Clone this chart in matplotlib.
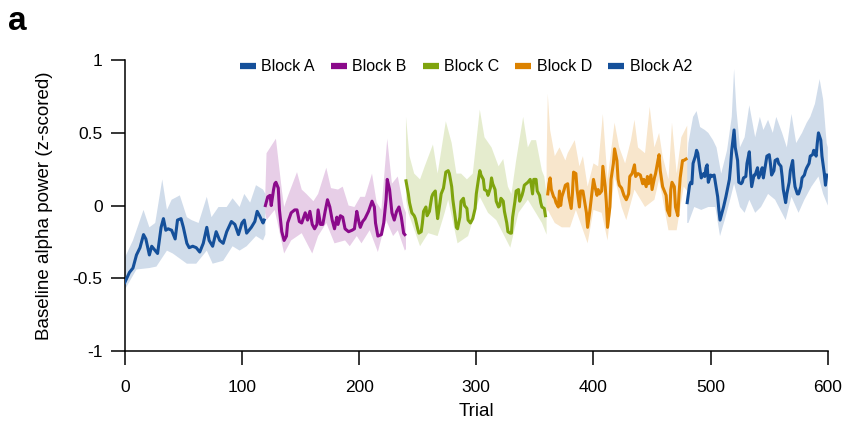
import matplotlib
matplotlib.use("Agg")
import matplotlib.pyplot as plt
from matplotlib.lines import Line2D

plt.rcParams['font.family'] = ['Liberation Sans', 'DejaVu Sans']

# ---------------- data ----------------
blocks = ["Block A", "Block B", "Block C", "Block D", "Block A2"]
colors = ["#15509a", "#8b0a8b", "#7fa40e", "#dc8200", "#15509a"]

A_t = [0,4,7,10,13,16,18,21,23,26,28,31,33,35,37,40,43,45,48,50,53,55,58,61,64,67,70,72,75,78,81,84,87,91,94,97,100,102,104,108,111,113,115,118,119]
A_v = [-0.53,-0.46,-0.43,-0.34,-0.29,-0.20,-0.23,-0.34,-0.28,-0.31,-0.33,-0.15,-0.09,-0.17,-0.16,-0.17,-0.23,-0.10,-0.09,-0.15,-0.26,-0.29,-0.28,-0.29,-0.32,-0.26,-0.15,-0.24,-0.28,-0.18,-0.24,-0.26,-0.18,-0.11,-0.13,-0.20,-0.12,-0.10,-0.19,-0.15,-0.11,-0.04,-0.07,-0.12,-0.10]
A_hi_t = [0,7,16,21,26,32,36,40,47,53,57,63,70,74,80,87,92,98,102,107,112,118,120]
A_hi_v = [-0.36,-0.24,-0.03,-0.15,-0.12,0.18,-0.03,0.04,0.07,-0.08,-0.10,-0.12,0.06,-0.08,-0.01,-0.01,0.05,-0.01,0.08,0.02,0.14,0.11,0.08]
A_lo_t = [0,10,21,27,36,41,53,61,70,75,84,92,98,104,112,118,120]
A_lo_v = [-0.58,-0.44,-0.43,-0.42,-0.31,-0.33,-0.40,-0.40,-0.31,-0.40,-0.38,-0.28,-0.31,-0.28,-0.21,-0.24,-0.20]

B_t = [120,122,124,125,127,128,129,131,132,134,136,138,139,142,145,147,149,151,154,156,158,160,162,164,165,167,169,171,173,175,177,179,181,182,184,186,188,191,194,196,197,198,200,201,203,205,208,211,213,214,216,219,221,223,224,226,228,230,232,234,236,238,239]
B_v = [0.00,0.06,0.07,0.00,0.11,0.15,0.16,0.12,-0.03,-0.18,-0.24,-0.21,-0.12,-0.05,-0.03,-0.03,-0.11,-0.12,-0.05,-0.10,-0.04,-0.13,-0.16,-0.13,-0.03,-0.13,-0.13,-0.04,0.04,-0.01,-0.10,-0.16,-0.08,-0.13,-0.07,-0.08,-0.16,-0.18,-0.17,-0.16,-0.10,-0.04,-0.12,-0.15,-0.11,-0.09,-0.04,0.03,-0.01,-0.12,-0.21,-0.20,-0.12,0.04,0.18,0.11,-0.05,-0.10,-0.04,-0.01,-0.08,-0.19,-0.20]
B_hi_t = [120,121,129,134,136,139,147,151,155,161,165,172,176,182,186,191,196,201,205,211,215,219,224,228,233,238,240]
B_hi_v = [0.10,0.36,0.46,0.11,-0.01,0.06,0.23,0.11,0.08,0.03,0.08,0.26,0.12,0.11,0.13,0.00,-0.01,0.06,0.06,0.22,0.02,-0.03,0.46,0.15,0.20,-0.01,-0.05]
B_lo_t = [120,121,128,136,142,151,160,165,172,179,188,192,198,202,209,216,223,229,233,239,240]
B_lo_v = [-0.05,-0.10,-0.03,-0.33,-0.24,-0.19,-0.33,-0.21,-0.12,-0.26,-0.24,-0.28,-0.21,-0.26,-0.17,-0.32,-0.10,-0.21,-0.17,-0.31,-0.30]

C_t = [240,242,243,245,247,248,250,251,253,254,255,257,258,260,262,263,265,266,267,269,270,272,274,276,277,279,280,282,283,284,286,287,289,290,292,293,295,297,299,300,302,303,304,306,307,309,310,312,313,314,316,317,319,320,321,323,324,326,327,329,330,331,333,334,336,337,339,340,341,344,346,347,348,349,351,352,354,355,356,358,359]
C_v = [0.17,0.08,0.02,-0.05,-0.07,-0.09,-0.16,-0.19,-0.18,-0.12,-0.04,-0.01,-0.07,-0.04,0.06,0.08,0.10,-0.01,-0.09,0.02,0.08,0.12,0.23,0.24,0.22,0.13,0.04,-0.08,-0.15,-0.16,-0.08,0.03,0.05,0.00,-0.02,-0.10,-0.12,-0.09,-0.02,0.08,0.19,0.24,0.21,0.18,0.11,0.10,0.07,0.12,0.19,0.15,0.11,0.03,-0.01,0.00,0.05,0.03,-0.04,-0.12,-0.18,-0.19,-0.19,-0.08,0.03,0.10,0.11,0.03,0.07,0.10,0.14,0.16,0.18,0.14,0.08,0.18,0.18,0.10,0.07,0.02,-0.01,-0.02,-0.07]
C_hi_t = [240,243,247,252,256,263,267,274,279,283,287,292,297,303,307,313,319,323,327,330,334,340,344,347,351,356,358,360]
C_hi_v = [0.61,0.34,0.22,0.18,0.27,0.42,0.22,0.58,0.43,0.22,0.22,0.18,0.22,0.66,0.47,0.40,0.27,0.32,0.13,0.08,0.31,0.61,0.40,0.45,0.45,0.24,0.20,0.08]
C_lo_t = [240,242,252,259,267,273,276,284,293,303,310,317,329,336,344,356,360]
C_lo_v = [0.04,-0.05,-0.28,-0.19,-0.21,-0.05,0.04,-0.26,-0.21,0.06,-0.05,-0.10,-0.29,-0.05,0.04,-0.12,-0.20]

D_t = [361,362,363,364,366,367,368,370,371,372,373,375,376,378,379,381,382,383,385,386,388,389,391,393,394,395,397,398,400,401,403,404,405,407,408,410,411,412,414,415,417,418,420,421,422,424,426,428,430,431,433,435,436,438,440,442,443,445,446,447,449,450,452,453,455,456,457,459,460,462,463,465,466,467,469,470,472,473,474,476,477,479]
D_v = [0.08,0.15,0.19,0.11,0.06,0.05,0.02,-0.01,0.10,0.00,0.06,0.11,0.14,0.15,0.06,-0.02,0.08,0.23,0.22,0.11,-0.01,0.10,0.10,0.00,-0.05,-0.15,-0.03,0.04,0.18,0.14,0.07,0.11,0.08,0.10,0.27,0.13,0.02,-0.15,-0.01,0.18,0.29,0.39,0.31,0.18,0.14,0.12,0.07,0.04,0.08,0.20,0.22,0.28,0.20,0.22,0.21,0.15,0.18,0.13,0.20,0.15,0.21,0.11,0.19,0.22,0.31,0.35,0.24,0.13,0.11,0.07,-0.03,-0.07,0.11,0.16,0.13,-0.01,-0.07,0.08,0.19,0.31,0.31,0.32]
D_hi_t = [360,361,363,367,371,376,378,384,388,391,395,400,404,408,412,418,422,427,432,435,438,444,448,452,456,459,464,467,471,475,480]
D_hi_v = [0.30,0.77,0.52,0.34,0.40,0.31,0.36,0.45,0.27,0.34,0.13,0.29,0.27,0.63,0.18,0.57,0.40,0.29,0.45,0.59,0.40,0.36,0.68,0.40,0.50,0.34,0.18,0.57,0.22,0.47,0.55]
D_lo_t = [360,361,367,373,380,385,395,400,407,412,418,424,428,435,444,452,456,464,471,477,480]
D_lo_v = [-0.05,-0.03,-0.12,-0.15,-0.15,-0.03,-0.26,-0.03,-0.05,-0.24,0.20,-0.01,-0.10,0.11,-0.01,0.04,0.18,-0.17,-0.17,0.13,0.10]

A2_t = [480,481,482,483,484,485,487,488,489,491,492,494,495,496,497,498,500,501,503,504,506,507,508,510,511,513,514,516,517,518,520,521,523,524,526,527,528,530,531,533,534,535,537,538,540,541,543,544,545,547,548,550,551,552,554,555,557,558,560,561,562,564,565,567,568,570,571,572,574,575,577,578,580,581,582,584,585,587,588,590,591,592,594,595,597,598,599]
A2_v = [0.02,0.08,0.14,0.16,0.15,0.29,0.34,0.38,0.36,0.24,0.19,0.22,0.20,0.26,0.28,0.16,0.21,0.20,0.21,0.16,0.06,-0.03,-0.10,-0.04,-0.01,0.06,0.10,0.18,0.27,0.38,0.52,0.40,0.31,0.16,0.15,0.16,0.19,0.20,0.29,0.37,0.23,0.13,0.21,0.21,0.26,0.19,0.23,0.26,0.19,0.29,0.34,0.35,0.29,0.21,0.24,0.31,0.32,0.29,0.27,0.20,0.11,0.02,0.08,0.16,0.24,0.31,0.20,0.13,0.08,0.08,0.13,0.19,0.21,0.24,0.26,0.29,0.34,0.35,0.38,0.34,0.43,0.50,0.45,0.34,0.22,0.14,0.21]
A2_hi_t = [480,481,485,488,491,495,498,502,505,509,514,518,520,522,525,529,533,538,542,545,549,553,556,561,565,569,573,578,582,585,589,593,596,599,600]
A2_hi_v = [0.30,0.43,0.61,0.65,0.54,0.52,0.50,0.45,0.40,0.22,0.38,0.61,0.94,0.66,0.40,0.47,0.69,0.47,0.61,0.52,0.59,0.50,0.61,0.50,0.40,0.63,0.43,0.50,0.57,0.61,0.70,0.87,0.73,0.43,0.40]
A2_lo_t = [480,481,486,492,498,504,508,512,516,520,525,529,533,538,543,549,555,564,569,575,580,586,592,596,599,600]
A2_lo_v = [-0.12,-0.12,-0.01,-0.03,-0.01,-0.01,-0.21,-0.10,0.02,0.15,-0.01,-0.05,0.04,-0.05,-0.01,0.08,0.04,-0.10,0.06,-0.05,0.04,0.13,0.20,0.08,0.02,0.00]

x_ticks = [0, 100, 200, 300, 400, 500, 600]
y_ticks = [-1, -0.5, 0, 0.5, 1]
y_ticklabels = ["-1", "-0.5", "0", "0.5", "1"]

series = [
    (A_t, A_v, A_hi_t, A_hi_v, A_lo_t, A_lo_v),
    (B_t, B_v, B_hi_t, B_hi_v, B_lo_t, B_lo_v),
    (C_t, C_v, C_hi_t, C_hi_v, C_lo_t, C_lo_v),
    (D_t, D_v, D_hi_t, D_hi_v, D_lo_t, D_lo_v),
    (A2_t, A2_v, A2_hi_t, A2_hi_v, A2_lo_t, A2_lo_v),
]

# ---------------- figure ----------------
fig = plt.figure(figsize=(8.43, 4.30), dpi=100)
ax = fig.add_axes([0.148, 0.184, 0.834, 0.676])

for (t, v, ht, hv, lt, lv), col in zip(series, colors):
    px = list(ht) + list(lt)[::-1]
    py = list(hv) + list(lv)[::-1]
    ax.fill(px, py, color=col, alpha=0.2, lw=0, zorder=1)
for (t, v, ht, hv, lt, lv), col in zip(series, colors):
    ax.plot(t, v, color=col, lw=2.2, solid_joinstyle='round', zorder=3)

ax.set_xlim(0, 600)
ax.set_ylim(-1, 1)
ax.set_xticks(x_ticks)
ax.set_yticks(y_ticks)
ax.set_yticklabels(y_ticklabels)
for s in ["top", "right"]:
    ax.spines[s].set_visible(False)
for s in ["left", "bottom"]:
    ax.spines[s].set_linewidth(1.1)
ax.tick_params(axis="both", direction="out", length=10, width=1.1, labelsize=12.5)
ax.tick_params(axis="x", pad=11)
ax.tick_params(axis="y", pad=6)
ax.set_xlabel("Trial", fontsize=13.5, labelpad=6)
ax.set_ylabel("Baseline alpha power (z-scored)", fontsize=13.5, labelpad=14)

handles = [Line2D([0], [0], color=c, lw=4.5, solid_capstyle='butt') for c in colors]
leg = ax.legend(handles, blocks, loc="upper center", bbox_to_anchor=(0.485, 1.025), ncol=5,
                frameon=False, fontsize=11.5, handlelength=1.0, handletextpad=0.35,
                columnspacing=1.0, borderaxespad=0.0)

fig.text(0.010, 0.915, "a", fontsize=24, fontweight="bold", va="bottom", ha="left")

fig.savefig("out.png", dpi=100)
